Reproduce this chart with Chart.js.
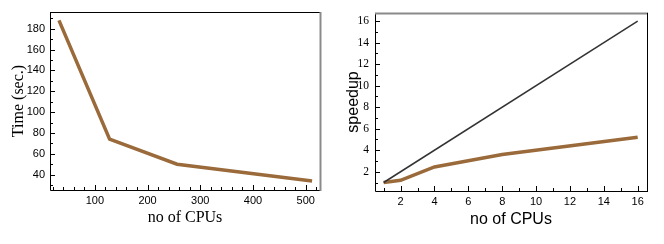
<!DOCTYPE html>
<html>
<head>
<meta charset="utf-8">
<script src="https://cdn.jsdelivr.net/npm/chart.js@4.4.1/dist/chart.umd.min.js"></script>
<style>
  html, body { margin: 0; padding: 0; background: #fff; }
  #wrap { position: relative; width: 664px; height: 244px; }
  .panel { position: absolute; top: 0; width: 332px; height: 244px; }
</style>
</head>
<body>
<div id="wrap">
  <div class="panel" style="left:0"><canvas id="timeChart" width="332" height="244"></canvas></div>
  <div class="panel" style="left:332px"><canvas id="speedChart" width="332" height="244"></canvas></div>
</div>
<script>
    // left panel: run time vs CPUs
    const timeCpus = [32, 128, 256, 512];
    const timeSecs = [188, 74, 50, 34];
    const timeXTicks = [100, 200, 300, 400, 500];
    const timeYTicks = [40, 60, 80, 100, 120, 140, 160, 180];

    // right panel: speedup vs CPUs
    const speedCpus = [1, 2, 4, 8, 16];
    const speedValues = [1, 1.2, 2.45, 3.6, 5.2];
    const idealCpus = [1, 16];
    const idealValues = [1, 16];
    const speedXTicks = [2, 4, 6, 8, 10, 12, 14, 16];
    const speedYTicks = [2, 4, 6, 8, 10, 12, 14, 16];

    const lineBrown = '#9a6a3a';
    const sans = "'Liberation Sans', Arial, sans-serif";
    const serif = "'Liberation Serif', 'Times New Roman', serif";

    function pairs(xs, ys) {
        return xs.map((x, i) => ({ x: x, y: ys[i] }));
    }

    // inward major/minor ticks plus the box around the plot
    const framePlugin = {
        id: 'frame',
        afterDraw(chart, args, opts) {
            const { ctx, chartArea: a, scales } = chart;
            const x = scales.x, y = scales.y;
            ctx.save();
            ctx.strokeStyle = '#000';
            ctx.lineWidth = 1;
            ctx.beginPath();
            for (let v = Math.ceil(x.min / opts.xMinor) * opts.xMinor; v <= x.max; v += opts.xMinor) {
                const px = Math.round(x.getPixelForValue(v)) + 0.5;
                const len = (Math.abs(v % opts.xMajor) < 1e-9) ? 5 : 3;
                ctx.moveTo(px, a.bottom);
                ctx.lineTo(px, a.bottom - len);
            }
            for (let v = Math.ceil(y.min / opts.yMinor) * opts.yMinor; v <= y.max; v += opts.yMinor) {
                const py = Math.round(y.getPixelForValue(v)) + 0.5;
                const len = (Math.abs(v % opts.yMajor) < 1e-9) ? 5 : 3;
                ctx.moveTo(a.left, py);
                ctx.lineTo(a.left + len, py);
            }
            ctx.stroke();

            // left and bottom
            ctx.beginPath();
            ctx.moveTo(a.left + 0.5, a.top);
            ctx.lineTo(a.left + 0.5, a.bottom + 0.5);
            ctx.lineTo(a.right, a.bottom + 0.5);
            ctx.stroke();

            // top
            ctx.strokeStyle = opts.topColor;
            ctx.lineWidth = opts.topWidth;
            ctx.beginPath();
            ctx.moveTo(a.left, a.top + 0.5);
            ctx.lineTo(a.right + 1, a.top + 0.5);
            ctx.stroke();

            // right
            ctx.strokeStyle = opts.rightColor;
            ctx.lineWidth = opts.rightWidth;
            ctx.beginPath();
            ctx.moveTo(a.right + 0.5, a.top);
            ctx.lineTo(a.right + 0.5, a.bottom + 1);
            ctx.stroke();
            ctx.restore();
        }
    };

    function axisTitle(text, family, size, pad) {
        return { display: true, text: text, color: '#000', font: { family: family, size: size }, padding: pad };
    }

    function fixedTicks(list) {
        return function (scale) {
            scale.ticks = list.map(v => ({ value: v }));
        };
    }

    new Chart(document.getElementById('timeChart').getContext('2d'), {
        type: 'line',
        data: {
            datasets: [{
                data: pairs(timeCpus, timeSecs),
                borderColor: lineBrown,
                borderWidth: 3.5,
                pointRadius: 0,
                tension: 0
            }]
        },
        options: {
            responsive: false,
            animation: false,
            layout: { padding: { top: 12, right: 12, left: 0, bottom: 0 } },
            plugins: {
                legend: { display: false },
                tooltip: { enabled: false },
                frame: { xMinor: 20, xMajor: 100, yMinor: 10, yMajor: 20,
                         topColor: '#000', topWidth: 1, rightColor: '#8a8a8a', rightWidth: 2 }
            },
            scales: {
                x: {
                    type: 'linear', min: 15, max: 527,
                    afterBuildTicks: fixedTicks(timeXTicks),
                    afterFit: s => { s.height = 54; },
                    grid: { display: false, drawTicks: false },
                    border: { display: false },
                    ticks: { color: '#000', padding: 4, maxRotation: 0, font: { family: sans, size: 11 } },
                    title: axisTitle('no of CPUs', serif, 16, { top: 0, bottom: 17 })
                },
                y: {
                    min: 25.3, max: 196,
                    afterBuildTicks: fixedTicks(timeYTicks),
                    afterFit: s => { s.width = 50; },
                    grid: { display: false, drawTicks: false },
                    border: { display: false },
                    ticks: { color: '#000', padding: 5, font: { family: sans, size: 11 } },
                    title: axisTitle('Time (sec.)', serif, 16, { top: 9, bottom: 0 })
                }
            }
        },
        plugins: [framePlugin]
    });

    new Chart(document.getElementById('speedChart').getContext('2d'), {
        type: 'line',
        data: {
            datasets: [{
                data: pairs(idealCpus, idealValues),
                borderColor: '#333',
                borderWidth: 1.5,
                pointRadius: 0,
                tension: 0
            }, {
                data: pairs(speedCpus, speedValues),
                borderColor: lineBrown,
                borderWidth: 3.5,
                pointRadius: 0,
                tension: 0
            }]
        },
        options: {
            responsive: false,
            animation: false,
            layout: { padding: { top: 12, right: 17, left: 0, bottom: 0 } },
            plugins: {
                legend: { display: false },
                tooltip: { enabled: false },
                frame: { xMinor: 1, xMajor: 2, yMinor: 1, yMajor: 2,
                         topColor: '#8a8a8a', topWidth: 2, rightColor: '#000', rightWidth: 1 }
            },
            scales: {
                x: {
                    type: 'linear', min: 0.49, max: 16.55,
                    afterBuildTicks: fixedTicks(speedXTicks),
                    afterFit: s => { s.height = 53; },
                    grid: { display: false, drawTicks: false },
                    border: { display: false },
                    ticks: { color: '#000', padding: 4, maxRotation: 0, font: { family: sans, size: 11 } },
                    title: axisTitle('no of CPUs', sans, 16, { top: 0, bottom: 15 })
                },
                y: {
                    min: 0.21, max: 16.77,
                    afterBuildTicks: fixedTicks(speedYTicks),
                    afterFit: s => { s.width = 43; },
                    grid: { display: false, drawTicks: false },
                    border: { display: false },
                    ticks: { color: '#000', padding: 6, font: { family: serif, size: 11.5 } },
                    title: axisTitle('speedup', sans, 16, { top: 12, bottom: 0 })
                }
            }
        },
        plugins: [framePlugin]
    });
</script>
</body>
</html>
